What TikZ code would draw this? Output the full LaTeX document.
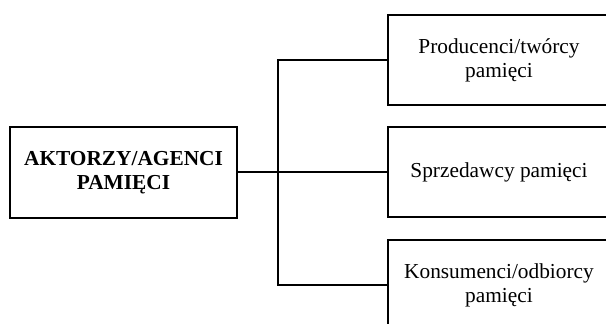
\documentclass[tikz,border=0pt]{standalone}
\usepackage{fontspec}
\setmainfont{Liberation Serif}
\usetikzlibrary{positioning, calc}
\tikzset{
    actorbox/.style={rectangle, draw=black, line width=1.5pt, minimum width=170.25pt, minimum height=68.25pt, inner sep=0pt, outer sep=0pt, align=center, font=\fontsize{16}{18}\selectfont\bfseries},
    rolebox/.style={rectangle, draw=black, line width=1.5pt, minimum width=166.5pt, minimum height=67.5pt, inner sep=0pt, outer sep=0pt, align=center, font=\fontsize{16}{18}\selectfont},
    link/.style={line width=1.5pt}
}
\begin{document}
\begin{tikzpicture}[x=0.75pt, y=-0.75pt]
        % Frame (boxes run past the right and bottom edges)
        \useasboundingbox (0,0) rectangle (606,324);
        \clip (0,0) rectangle (606,324);

        % Main box
        \node[actorbox] (actor) at (123.5,172.5) {AKTORZY/AGENCI\\PAMIĘCI};

        % Roles
        \node[rolebox] (prod) at (499,60) {Producenci/twórcy\\pamięci};
        \node[rolebox] (sprz) at (499,172) {Sprzedawcy pamięci};
        \node[rolebox] (kons) at (499,285) {Konsumenci/odbiorcy\\pamięci};

        % Connectors
        \coordinate (split) at (278,172);
        \draw[link] (actor.east |- split) -- (sprz.west);
        \draw[link] (prod.west) -| (split) |- (kons.west);
    \end{tikzpicture}
\end{document}
